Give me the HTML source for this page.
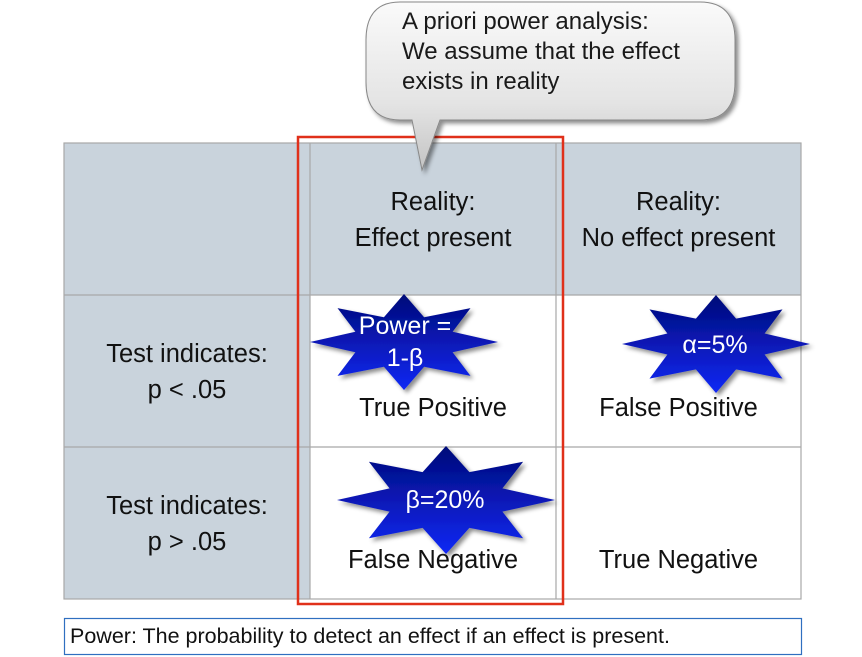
<!DOCTYPE html>
<html><head><style>
body{margin:0;width:862px;height:657px;background:#fff;position:relative;overflow:hidden;font-family:"Liberation Sans",sans-serif}
.c{position:absolute;box-sizing:border-box;display:flex;align-items:center;justify-content:center;text-align:center;font-size:25.5px;color:#111;line-height:36px;white-space:nowrap}
</style></head><body>
<svg width="862" height="657" style="position:absolute;left:0;top:0">
<defs>
<linearGradient id="g" x1="0" y1="0" x2="0" y2="1"><stop offset="0" stop-color="#000a78"/><stop offset="1" stop-color="#1228f5"/></linearGradient>
<linearGradient id="b" x1="0" y1="0" x2="0" y2="1"><stop offset="0" stop-color="#fafafa"/><stop offset="0.6" stop-color="#e4e4e4"/><stop offset="1" stop-color="#c4c4c4"/></linearGradient>
<filter id="s"><feDropShadow dx="3" dy="3" stdDeviation="2" flood-opacity="0.45"/></filter>
</defs>
<rect x="64" y="143" width="737" height="152" fill="#c9d3dc"/>
<rect x="64" y="295" width="246" height="304" fill="#c9d3dc"/>
<g stroke="#a8a8a8" stroke-width="1.2" fill="none">
<rect x="64" y="143" width="737" height="456"/>
<line x1="310" y1="143" x2="310" y2="599"/>
<line x1="556" y1="143" x2="556" y2="599"/>
<line x1="64" y1="295" x2="801" y2="295"/>
<line x1="64" y1="447" x2="801" y2="447"/>
</g>
<rect x="298" y="137" width="265" height="467" fill="none" stroke="#e0301a" stroke-width="2.5"/>
<rect x="64.5" y="618.5" width="737" height="36" fill="#fff" stroke="#2f6fc0" stroke-width="1.2"/>
<path d="M400,2 H700 Q735,2 735,40 V82 Q735,120 700,120 H440 L422,170 L412,120 H400 Q366,120 366,82 V40 Q366,2 400,2 Z" fill="url(#b)" stroke="#888" stroke-width="1" filter="url(#s)"/>
<g id="stars" fill="url(#g)" filter="url(#s)"></g>
</svg>
<div style="position:absolute;left:402px;top:7px;font-size:24px;line-height:30px;color:#1a1a1a;white-space:nowrap">A priori power analysis:<br>We assume that the effect<br>exists in reality</div>
<div class="c" style="left:310px;top:184px;width:246px;height:72px">Reality:<br>Effect present</div>
<div class="c" style="left:556px;top:184px;width:245px;height:72px">Reality:<br>No effect present</div>
<div class="c" style="left:64px;top:336px;width:246px;height:72px">Test indicates:<br>p &lt; .05</div>
<div class="c" style="left:64px;top:488px;width:246px;height:72px">Test indicates:<br>p &gt; .05</div>
<div class="c" style="left:310px;top:390px;width:246px;height:36px">True Positive</div>
<div class="c" style="left:556px;top:390px;width:245px;height:36px">False Positive</div>
<div class="c" style="left:310px;top:542px;width:246px;height:36px">False Negative</div>
<div class="c" style="left:556px;top:542px;width:245px;height:36px">True Negative</div>
<div class="c" style="left:330px;top:310px;width:150px;height:64px;color:#fff;font-size:25px;line-height:32px">Power =<br>1-β</div>
<div class="c" style="left:640px;top:327px;width:150px;height:36px;color:#fff;font-size:25px">α=5%</div>
<div class="c" style="left:370px;top:482px;width:150px;height:36px;color:#fff;font-size:25px">β=20%</div>
<div style="position:absolute;left:70px;top:624px;font-size:21.5px;color:#111;white-space:nowrap">Power: The probability to detect an effect if an effect is present.</div>
<script>
function star(cx,cy,rx,ry){var p=[];for(var i=0;i<16;i++){var a=-Math.PI/2+i*Math.PI/8,r=i%2?0.56:1;p.push((cx+Math.cos(a)*rx*r).toFixed(1)+','+(cy+Math.sin(a)*ry*r).toFixed(1));}return '<polygon points="'+p.join(' ')+'"/>';}
document.getElementById('stars').innerHTML=star(404,342,94,48)+star(716,344,94,49)+star(446,500,109,54);
</script>
</body></html>
